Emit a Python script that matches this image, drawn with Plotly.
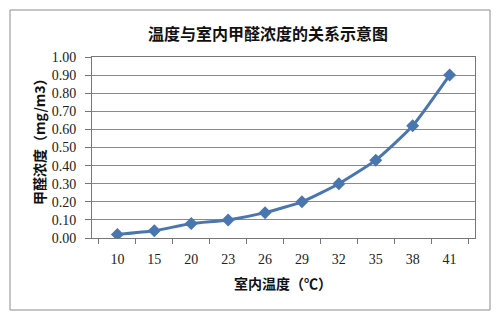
import plotly.graph_objects as go

temps = ["10", "15", "20", "23", "26", "29", "32", "35", "38", "41"]
conc = [0.02, 0.04, 0.08, 0.10, 0.14, 0.20, 0.30, 0.43, 0.62, 0.90]
y_ticks = [0.0, 0.1, 0.2, 0.3, 0.4, 0.5, 0.6, 0.7, 0.8, 0.9, 1.0]

W, H = 504, 320
L, R, T, B = 92, 475, 57, 238

def px(x):
    return (x - L) / (R - L)

def py(y):
    return (B - y) / (B - T)

fig = go.Figure()
fig.add_trace(go.Scatter(
    x=temps, y=conc, mode="lines+markers",
    line=dict(color="#4a76b0", width=3, shape="spline", smoothing=0.5),
    marker=dict(symbol="diamond", size=10, color="#4a76b0"),
    showlegend=False,
))

tickfont = dict(family="Liberation Serif", size=14, color="#222")

fig.update_layout(
    width=W, height=H,
    margin=dict(l=L, r=W - R, t=T, b=H - B),
    paper_bgcolor="white", plot_bgcolor="white",
    font=dict(family="Liberation Serif", size=14, color="#222"),
    xaxis=dict(
        type="category", tickson="boundaries", ticks="outside", ticklen=5,
        tickcolor="#777", showgrid=False, showline=True, linecolor="#777",
        linewidth=1, mirror=True, tickfont=tickfont, ticklabelstandoff=8,
    ),
    yaxis=dict(
        range=[0, 1], tickvals=y_ticks, ticktext=[f"{v:.2f}" for v in y_ticks],
        ticks="outside", ticklen=6, tickcolor="#777",
        showgrid=True, gridcolor="#8a8a8a", gridwidth=1,
        showline=True, linecolor="#777", linewidth=1, mirror=True,
        zeroline=False, tickfont=tickfont, ticklabelstandoff=6,
    ),
    shapes=[dict(type="rect", xref="paper", yref="paper",
                 x0=px(10), x1=px(490), y0=py(310), y1=py(10),
                 line=dict(color="#8c8c8c", width=1), layer="below")],
    annotations=[
        dict(text="<b>温度与室内甲醛浓度的关系示意图</b>", xref="paper", yref="paper",
             x=px(268), y=py(33), showarrow=False, xanchor="center", yanchor="middle",
             font=dict(family="Noto Sans CJK SC", size=16, color="#111")),
        dict(text="<b>室内温度（℃）</b>", xref="paper", yref="paper",
             x=px(283), y=py(283), showarrow=False, xanchor="center", yanchor="middle",
             font=dict(family="Noto Sans CJK SC", size=14, color="#111")),
        dict(text="<b>甲醛浓度（mg/m3）</b>", xref="paper", yref="paper",
             x=px(39), y=py(138), showarrow=False, xanchor="center", yanchor="middle",
             textangle=-90,
             font=dict(family="Noto Sans CJK SC", size=14, color="#111")),
    ],
)

fig.write_html("out.html")
